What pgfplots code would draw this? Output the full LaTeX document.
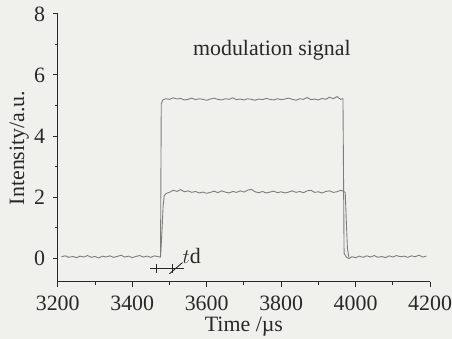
\documentclass[border=0pt]{standalone}
\usepackage{pgfplots}
\pgfplotsset{compat=1.18}
\usepackage{fontspec}
\setmainfont{Liberation Serif}
\definecolor{bg}{RGB}{240,240,237}
\definecolor{ax}{RGB}{40,40,40}
\definecolor{tr}{RGB}{125,125,125}
\begin{document}
\fontsize{22.5}{27}\selectfont
\begin{tikzpicture}
\path[use as bounding box, fill=bg] (-58pt,-57pt) rectangle (396pt,283pt);
\begin{axis}[
  at={(0,0)}, anchor=south west,
  scale only axis, width=374pt, height=269pt,
  xmin=3200, xmax=4200, ymin=-0.78, ymax=8,
  axis x line*=bottom, axis y line*=left,
  axis line style={ax, line width=1pt},
  every tick/.style={ax, line width=0.9pt},
  tick align=outside, major tick length=5pt, minor tick length=3pt,
  xtick={3200,3400,...,4200}, minor xtick={3300,3500,...,4100},
  ytick={0,2,4,6,8}, minor ytick={1,3,5,7},
  xticklabel style={/pgf/number format/set thousands separator={}, yshift=-2pt},
  /pgf/number format/assume math mode=true,
  tick label style={font=\fontsize{22}{27}\selectfont, text=ax},
  label style={font=\fontsize{22}{27}\selectfont, text=ax},
  xlabel={Time /µs},
  ylabel={Intensity/a.u.},
  xlabel style={yshift=9pt},
  ylabel style={yshift=-10pt},
  clip=false,
]
% upper trace with baselines
\addplot[tr, line width=0.9pt] coordinates {
(3210,0.04)(3220,0.07)(3230,0.02)(3240,0.05)(3250,0.01)(3260,0.06)(3270,0.03)(3280,0.08)(3290,0.02)(3300,0.05)
(3310,0.00)(3320,0.06)(3330,0.03)(3340,0.07)(3350,0.02)(3360,0.05)(3370,0.09)(3380,0.03)(3390,0.06)(3400,0.01)
(3410,0.05)(3420,0.08)(3430,0.03)(3440,0.06)(3450,0.02)(3460,0.07)(3470,0.04)(3476,0.03)
(3478,5.05)(3482,5.18)(3490,5.22)(3500,5.2)(3510,5.25)(3520,5.21)(3530,5.23)(3540,5.18)(3550,5.2)(3560,5.24)
(3570,5.19)(3580,5.22)(3590,5.2)(3600,5.17)(3610,5.21)(3620,5.24)(3630,5.2)(3640,5.18)(3650,5.22)(3660,5.2)
(3670,5.25)(3680,5.19)(3690,5.21)(3700,5.18)(3710,5.22)(3720,5.2)(3730,5.17)(3740,5.21)(3750,5.19)(3760,5.23)
(3770,5.2)(3780,5.18)(3790,5.22)(3800,5.19)(3810,5.21)(3820,5.24)(3830,5.2)(3840,5.17)(3850,5.22)(3860,5.2)
(3870,5.26)(3880,5.19)(3890,5.21)(3900,5.18)(3910,5.23)(3920,5.2)(3930,5.27)(3940,5.22)(3950,5.29)(3960,5.2)(3966,5.22)
(3969,0.15)(3975,0.03)(3982,-0.02)(3990,0.04)(4000,0.01)(4010,0.06)(4020,0.02)(4030,0.07)(4040,0.03)(4050,0.08)
(4060,0.02)(4070,0.05)(4080,0.01)(4090,0.07)(4100,0.03)(4110,0.08)(4120,0.04)(4130,0.06)(4140,0.02)(4150,0.07)
(4160,0.04)(4170,0.09)(4180,0.03)(4190,0.06)};
% lower trace
\addplot[tr, line width=0.9pt] coordinates {
(3476,0.03)(3480,0.9)(3483,1.7)(3486,2.05)(3492,2.12)(3500,2.15)(3510,2.22)(3520,2.18)(3530,2.24)(3540,2.17)
(3550,2.2)(3560,2.15)(3570,2.18)(3580,2.13)(3590,2.16)(3600,2.12)(3610,2.15)(3620,2.19)(3630,2.14)(3640,2.2)
(3650,2.16)(3660,2.13)(3670,2.18)(3680,2.15)(3690,2.2)(3700,2.16)(3710,2.22)(3720,2.25)(3730,2.17)(3740,2.14)
(3750,2.18)(3760,2.13)(3770,2.16)(3780,2.19)(3790,2.14)(3800,2.17)(3810,2.13)(3820,2.16)(3830,2.2)(3840,2.15)
(3850,2.18)(3860,2.14)(3870,2.2)(3880,2.22)(3890,2.15)(3900,2.17)(3910,2.13)(3920,2.18)(3930,2.2)(3940,2.15)
(3950,2.17)(3960,2.22)(3968,2.18)(3972,2.15)(3975,1.2)(3978,0.3)(3982,0.02)};
% td marker
\addplot[ax, line width=0.9pt] coordinates {(3448,-0.36)(3540,-0.36)};
\addplot[ax, line width=0.9pt, only marks, mark=|, mark size=4.5pt] coordinates {(3465,-0.36)(3508,-0.36)};
\addplot[ax, line width=0.9pt] coordinates {(3500,-0.52)(3535,-0.15)};
\node[anchor=west, text=ax, font=\fontsize{22}{27}\selectfont, inner sep=0pt] at (axis cs:3535,0.05) {$t$d};
\node[text=ax, font=\fontsize{22}{27}\selectfont] at (axis cs:3775,6.8) {modulation signal};
\end{axis}
\end{tikzpicture}
\end{document}
